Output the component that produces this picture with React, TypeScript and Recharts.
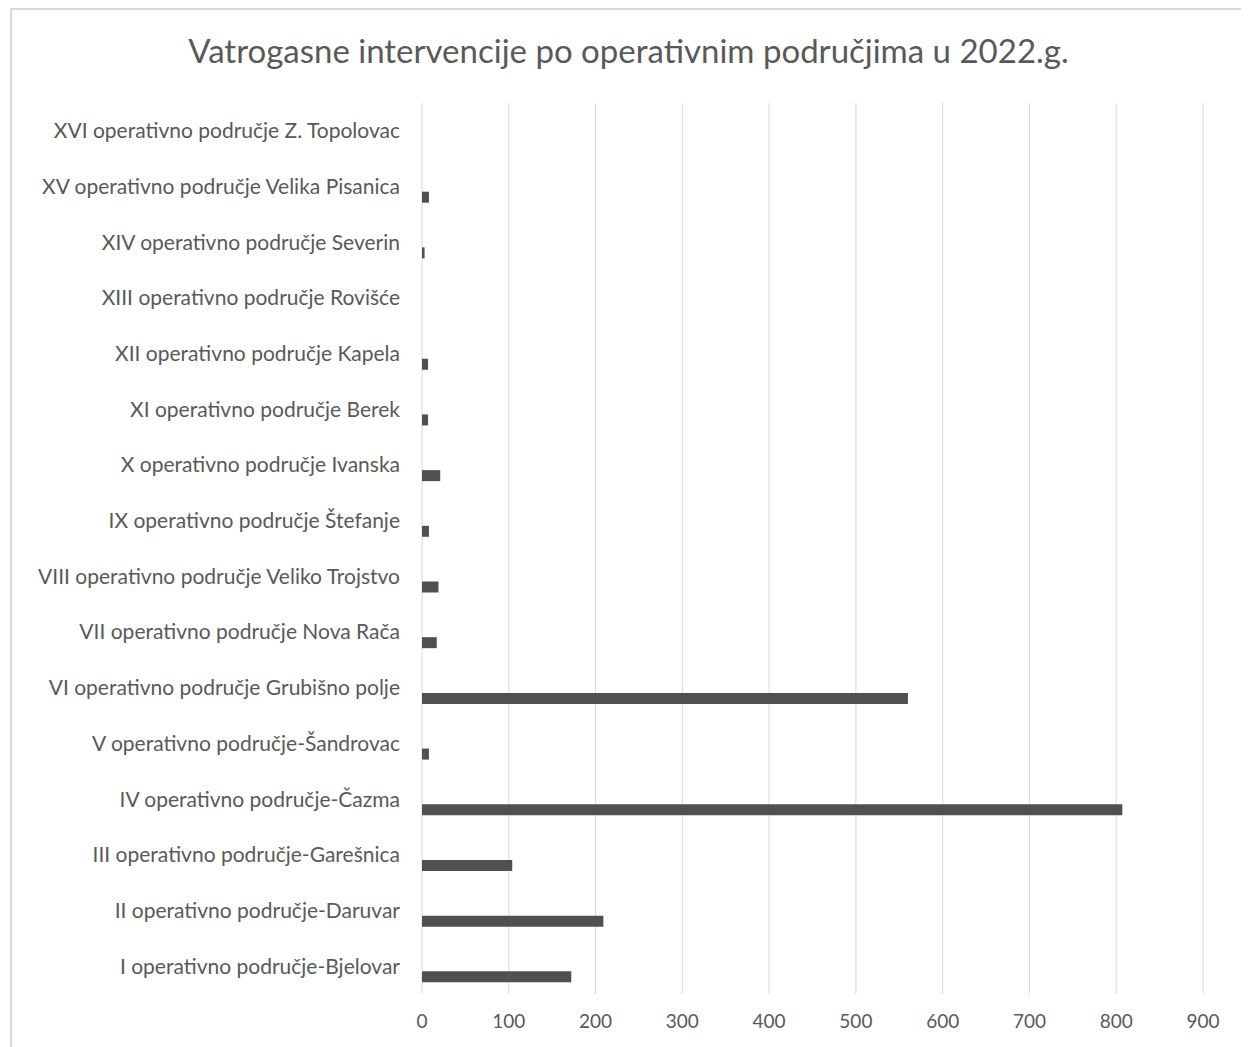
import { BarChart, Bar, XAxis, YAxis, CartesianGrid, Rectangle } from "recharts";

const categories = [
  "I operativno područje-Bjelovar",
  "II operativno područje-Daruvar",
  "III operativno područje-Garešnica",
  "IV operativno područje-Čazma",
  "V operativno područje-Šandrovac",
  "VI operativno područje Grubišno polje",
  "VII operativno područje Nova Rača",
  "VIII operativno područje Veliko Trojstvo",
  "IX operativno područje Štefanje",
  "X operativno područje Ivanska",
  "XI operativno područje Berek",
  "XII operativno područje Kapela",
  "XIII operativno područje Rovišće",
  "XIV operativno područje Severin",
  "XV operativno područje Velika  Pisanica",
  "XVI operativno područje Z. Topolovac",
];

const interventions = [172, 209, 104, 807, 8, 560, 17, 19, 8, 21, 7, 7, 0, 3, 8, 0];

const xTicks = [0, 100, 200, 300, 400, 500, 600, 700, 800, 900];

const title = "Vatrogasne intervencije po operativnim područjima u 2022.g.";

const data = categories.map((name, i) => ({ name, value: interventions[i] }));

const FONT = "Lato, 'Open Sans', sans-serif";
const TEXT = "#595959";

// bar sits in the lower part of its band, like the original Excel clustered layout
const ShiftedBar = (props: any) => <Rectangle {...props} y={props.y + 11} />;

const App = () => {
  return (
    <div
      style={{
        position: "relative",
        marginLeft: 2,
        width: 1237,
        height: 1060,
        boxSizing: "border-box",
        border: "2px solid #d9d9d9",
        background: "#fff",
        fontFamily: FONT,
      }}
    >
      <div
        style={{
          position: "absolute",
          top: 20,
          left: 0,
          width: "100%",
          textAlign: "center",
          fontSize: 33,
          color: TEXT,
        }}
      >
        {title}
      </div>
      <BarChart
        width={1233}
        height={1040}
        data={data}
        layout="vertical"
        margin={{ top: 93, right: 42, bottom: 16, left: 0 }}
        barCategoryGap={0}
      >
        <CartesianGrid horizontal={false} stroke="#d9d9d9" />
        <XAxis
          type="number"
          domain={[0, 900]}
          ticks={xTicks}
          axisLine={false}
          tickLine={false}
          tickSize={0}
          tickMargin={21}
          height={40}
          tick={{ fill: TEXT, fontSize: 19, fontFamily: FONT }}
        />
        <YAxis
          type="category"
          dataKey="name"
          reversed
          width={410}
          axisLine={false}
          tickLine={false}
          tickSize={0}
          tickMargin={22}
          interval={0}
          tick={{ fill: TEXT, fontSize: 21, fontFamily: FONT }}
        />
        <Bar
          dataKey="value"
          fill="#505050"
          barSize={11}
          shape={ShiftedBar}
          isAnimationActive={false}
        />
      </BarChart>
    </div>
  );
};

export default App;
